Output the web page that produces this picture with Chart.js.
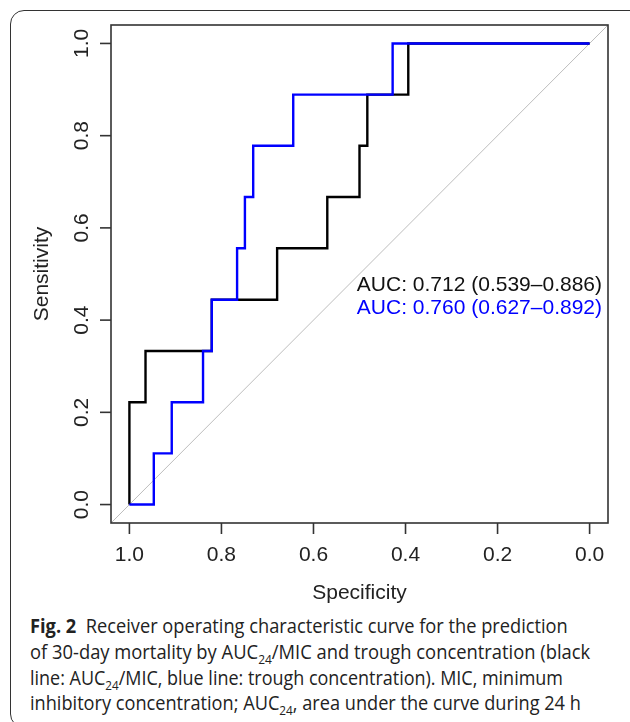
<!DOCTYPE html>
<html>
<head>
<meta charset="utf-8">
<script src="https://cdn.jsdelivr.net/npm/chart.js@4.4.0/dist/chart.umd.min.js"></script>
<style>
    body { margin: 0; background: #fff; width: 630px; height: 722px; overflow: hidden; position: relative; }
    #caixa { position: absolute; left: 10px; top: 10px; width: 640px; height: 716px; border: 1px solid #333; border-radius: 14px; }
    #grafico { position: absolute; left: 0; top: 0; }
    .legenda { position: absolute; left: 30px; font-family: "Open Sans", "Noto Sans", sans-serif; font-size: 20px; line-height: 26px; color: #222; white-space: nowrap; transform-origin: left center; }
    .legenda sub { font-size: 13px; vertical-align: -5px; line-height: 0; }
</style>
</head>
<body>
<div id="caixa"></div>
<canvas id="grafico" width="630" height="608"></canvas>
<div class="legenda" style="top:613px"><b>Fig. 2</b>&nbsp; Receiver operating characteristic curve for the prediction</div>
<div class="legenda" style="top:639px">of 30-day mortality by AUC<sub>24</sub>/MIC and trough concentration (black</div>
<div class="legenda" style="top:665px">line: AUC<sub>24</sub>/MIC, blue line: trough concentration). MIC, minimum</div>
<div class="legenda" style="top:690px">inhibitory concentration; AUC<sub>24</sub>, area under the curve during 24 h</div>
<script>
// curva preta: AUC24/MIC
const especPreta = [1.0, 1.0, 0.965, 0.965, 0.821, 0.821, 0.679, 0.679, 0.570, 0.570, 0.500, 0.500, 0.483, 0.483, 0.394, 0.394, 0.0];
const sensPreta  = [0.0, 0.222, 0.222, 0.333, 0.333, 0.444, 0.444, 0.556, 0.556, 0.667, 0.667, 0.778, 0.778, 0.889, 0.889, 1.0, 1.0];

// curva azul: concentracao de vale
const especAzul = [1.0, 0.947, 0.947, 0.908, 0.908, 0.840, 0.840, 0.821, 0.821, 0.766, 0.766, 0.749, 0.749, 0.731, 0.731, 0.644, 0.644, 0.428, 0.428, 0.0];
const sensAzul  = [0.0, 0.0, 0.111, 0.111, 0.222, 0.222, 0.333, 0.333, 0.444, 0.444, 0.556, 0.556, 0.667, 0.667, 0.778, 0.778, 0.889, 0.889, 1.0, 1.0];

// diagonal de referencia
const especDiag = [1.04, -0.04];
const sensDiag = [-0.04, 1.04];

const ticksX = [1.0, 0.8, 0.6, 0.4, 0.2, 0.0];
const ticksY = [0.0, 0.2, 0.4, 0.6, 0.8, 1.0];
const textosAuc = ["AUC: 0.712 (0.539\u20130.886)", "AUC: 0.760 (0.627\u20130.892)"];
const coresAuc = ["#111111", "#0000ff"];

function pontos(xs, ys) {
    var lista = [];
    for (var i = 0; i < xs.length; i++) {
        lista.push({ x: xs[i], y: ys[i] });
    }
    return lista;
}

const eixosR = {
    id: 'eixosR',
    afterDraw(chart) {
        const ctx = chart.ctx;
        const area = chart.chartArea;
        const sx = chart.scales.x;
        const sy = chart.scales.y;
        ctx.save();
        ctx.strokeStyle = '#333';
        ctx.lineWidth = 1.6;
        ctx.strokeRect(area.left, area.top, area.right - area.left, area.bottom - area.top);

        ctx.fillStyle = '#222';
        ctx.font = '21px "Liberation Sans", Arial, sans-serif';
        ctx.textAlign = 'center';
        ctx.textBaseline = 'middle';
        // ticks eixo x
        for (var i = 0; i < ticksX.length; i++) {
            var px = sx.getPixelForValue(ticksX[i]);
            ctx.beginPath();
            ctx.moveTo(px, area.bottom);
            ctx.lineTo(px, area.bottom + 11);
            ctx.stroke();
            ctx.fillText(ticksX[i].toFixed(1), px, area.bottom + 32);
        }
        // ticks eixo y
        for (var j = 0; j < ticksY.length; j++) {
            var py = sy.getPixelForValue(ticksY[j]);
            ctx.beginPath();
            ctx.moveTo(area.left, py);
            ctx.lineTo(area.left - 11, py);
            ctx.stroke();
            ctx.save();
            ctx.translate(area.left - 29, py);
            ctx.rotate(-Math.PI / 2);
            ctx.fillText(ticksY[j].toFixed(1), 0, 0);
            ctx.restore();
        }
        // titulos
        ctx.fillText('Specificity', (area.left + area.right) / 2, area.bottom + 70);
        ctx.save();
        ctx.translate(area.left - 69, (area.top + area.bottom) / 2);
        ctx.rotate(-Math.PI / 2);
        ctx.fillText('Sensitivity', 0, 0);
        ctx.restore();

        // textos AUC
        ctx.textAlign = 'right';
        for (var k = 0; k < textosAuc.length; k++) {
            ctx.fillStyle = coresAuc[k];
            ctx.fillText(textosAuc[k], 602, 285 + k * 23);
        }
        ctx.restore();
    }
};

const ctxGrafico = document.getElementById('grafico');
var graficoRoc = new Chart(ctxGrafico, {
    type: 'line',
    data: {
        datasets: [{
            label: 'trough concentration',
            data: pontos(especAzul, sensAzul),
            borderColor: '#0000ff',
            borderWidth: 2.4,
            order: 0
        }, {
            label: 'AUC24/MIC',
            data: pontos(especPreta, sensPreta),
            borderColor: '#000000',
            borderWidth: 2.4,
            order: 1
        }, {
            label: 'diagonal',
            data: pontos(especDiag, sensDiag),
            borderColor: '#bdbdbd',
            borderWidth: 1,
            order: 2
        }]
    },
    options: {
        responsive: false,
        animation: false,
        layout: {
            padding: { left: 111, right: 22, top: 25, bottom: 85 }
        },
        elements: {
            point: { radius: 0 },
            line: { tension: 0, borderCapStyle: 'butt', borderJoinStyle: 'miter' }
        },
        plugins: {
            legend: { display: false },
            tooltip: { enabled: false }
        },
        scales: {
            x: { type: 'linear', min: -0.04, max: 1.04, reverse: true, display: false },
            y: { type: 'linear', min: -0.04, max: 1.04, display: false }
        }
    },
    plugins: [eixosR]
});

// ajusta a largura das linhas da legenda
const larguras = [538, 560, 533, 551];
document.querySelectorAll('.legenda').forEach(function (linha, i) {
    var w = linha.getBoundingClientRect().width;
    linha.style.transform = 'scaleX(' + (larguras[i] / w).toFixed(3) + ')';
});
</script>
</body>
</html>
